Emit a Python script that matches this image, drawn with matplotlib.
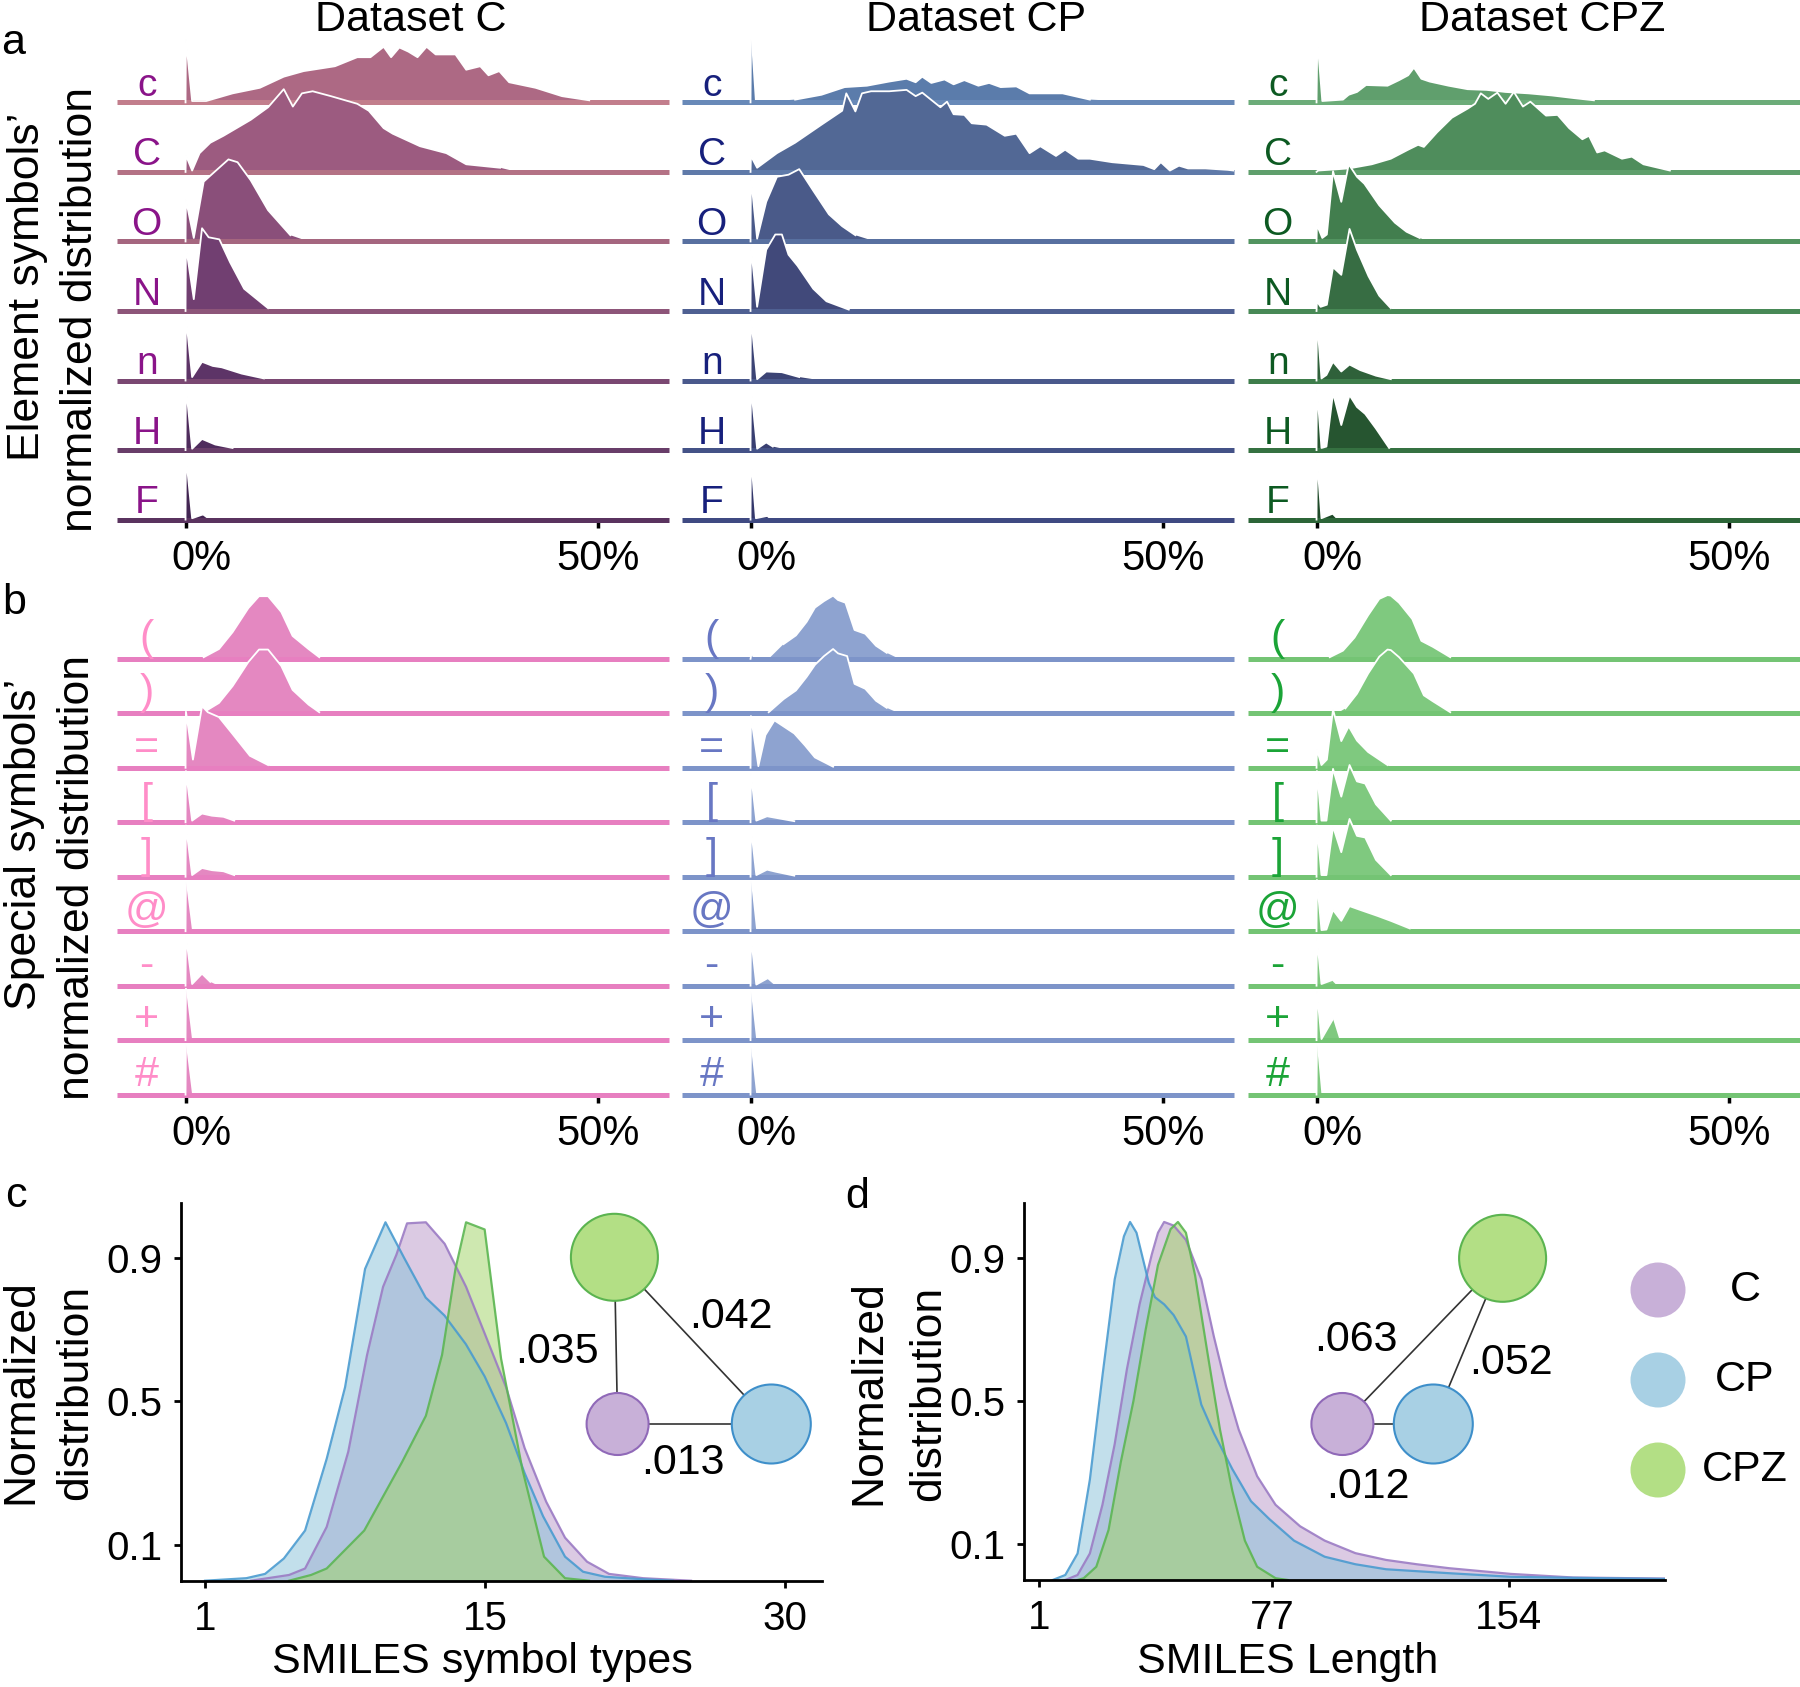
import matplotlib
matplotlib.use('Agg')
import matplotlib.pyplot as plt
import numpy as np
from matplotlib.patches import Circle
from matplotlib.transforms import ScaledTranslation

plt.rcParams['font.family'] = ['Liberation Sans', 'DejaVu Sans']

W, H = 1800, 1687

# ---------------- data ----------------
datasets = ['C', 'CP', 'CPZ']
elem_symbols = ['c', 'C', 'O', 'N', 'n', 'H', 'F']
spec_symbols = ['(', ')', '=', '[', ']', '@', '-', '+', '#']

# ridges: (percent, height in row units)
elem_C = [
    [(0, 0), (0.05, .91), (0.8, .02), (2.5, .02), (5.7, .13), (9, .21), (11.9, .37), (14.3, .45), (18.1, .52),
     (20.8, .65), (22.4, .65), (24, .8), (24.9, .65), (25.9, .79), (27, .73), (28.1, .65), (29.2, .8), (30.3, .69),
     (32.7, .69), (34, .47), (35.7, .52), (36.7, .39), (38, .45), (39.2, .29), (42.4, .21), (45.6, .09), (48.9, .03), (50.5, 0)],
    [(0, 0), (0.05, .24), (0.8, .02), (1.7, .27), (3, .42), (4.6, .52), (7.9, .75), (10, .93), (11.9, 1.19), (13, .94),
     (14.1, 1.13), (15.4, 1.16), (17.6, 1.09), (20.8, .98), (22.2, .88), (24, .63), (25.1, .55), (28.4, .37), (31.6, .27),
     (34, .11), (38.1, .06), (40.2, 0)],
    [(0, 0), (0.05, .6), (1, .05), (2.2, .86), (3.6, 1.01), (5.2, 1.18), (6.3, 1.14), (7.9, .88), (10, .45), (12.7, .09), (14.9, 0)],
    [(0, 0), (0.05, .93), (1, .17), (2, 1.19), (2.8, 1.06), (4.1, 1.03), (5.4, .7), (7.1, .32), (10, .04), (10.5, 0)],
    [(0, 0), (0.05, .92), (0.8, .05), (2, .27), (3.3, .21), (4.4, .19), (6.8, .1), (9.5, .03), (10, 0)],
    [(0, 0), (0.05, .92), (0.8, .02), (2, .16), (3.6, .08), (5.7, .03), (6.2, 0)],
    [(0, 0), (0.05, .92), (0.8, .02), (2, .07), (2.8, 0)],
]
elem_CP = [
    [(0, 0), (0.05, .91), (0.55, 0), (5.4, .04), (8.6, .11), (11.4, .22), (14.1, .24), (16.8, .30), (18.9, .34), (20, .29),
     (20.8, .37), (21.9, .28), (23.5, .33), (24.6, .26), (25.9, .32), (27.6, .24), (28.9, .28), (30.3, .22), (32.2, .23),
     (33.8, .13), (35.7, .13), (37.8, .13), (41.1, .04), (46.5, .01), (48, 0)],
    [(0, 0), (0.05, .23), (0.8, .06), (3.2, .27), (5.4, .42), (8.6, .68), (11.1, .88), (11.6, 1.13), (12.7, .87), (13.5, 1.13),
     (14.6, 1.16), (16.8, 1.16), (18.9, 1.18), (20, 1.09), (20.8, 1.14), (23, .93), (23.8, 1.01), (24.6, .83), (25.9, .82),
     (26.8, .70), (28.6, .68), (30.8, .52), (32.2, .55), (33.8, .27), (35.1, .37), (37, .23), (38.1, .32), (39.7, .19),
     (41.1, .19), (43.8, .14), (47.6, .10), (48.9, .04), (49.7, .14), (50.8, .02), (51.9, .09), (53, .05), (55.1, .05),
     (57.8, .03), (58.5, .02)],
    [(0, 0), (0.05, .93), (0.8, .04), (1.9, .57), (3.2, .93), (4.6, .96), (5.9, 1.04), (7.6, .73), (9.5, .39), (11.1, .22), (12.7, .09), (15.1, 0)],
    [(0, 0), (0.05, .93), (0.8, .06), (1.9, .88), (3, 1.1), (3.8, 1.1), (4.6, .81), (5.7, .65), (7.6, .32), (9.2, .14), (11.9, .02), (12.5, 0)],
    [(0, 0), (0.05, .92), (0.8, .02), (1.9, .13), (3.8, .12), (5.9, .05), (8.1, .01), (8.5, 0)],
    [(0, 0), (0.05, .92), (0.8, .02), (1.9, .11), (2.7, .05), (4.3, .01), (4.6, 0)],
    [(0, 0), (0.05, .92), (0.65, .02), (1.9, .05), (2.4, 0)],
]
elem_CPZ = [
    [(0, 0), (0.1, .91), (0.7, .02), (3.2, .04), (3.9, .11), (4.9, .15), (6, .25), (8.6, .24), (10, .32), (11.1, .39), (11.8, .5),
     (12.7, .34), (13.7, .30), (16, .24), (18.3, .19), (20.6, .18), (22.9, .15), (25.7, .13), (28.5, .1), (31.3, .06), (33.6, .03), (35, 0)],
    [(0, 0), (0.2, .02), (3.9, .05), (6.7, .11), (9, .19), (11.1, .32), (12.3, .39), (13, .36), (14.6, .57), (16.4, .78), (18.3, .91),
     (19.2, .98), (19.9, 1.13), (20.8, 1.05), (21.9, 1.14), (22.9, .98), (23.9, 1.15), (25, .94), (25.9, 1.01), (27.8, .81),
     (29.2, .82), (30.6, .63), (32.2, .47), (33, .52), (34, .28), (34.9, .31), (37, .19), (38.2, .22), (39.6, .11), (42.8, .02), (43.5, 0)],
    [(0, 0), (0.05, .24), (0.7, .05), (1.25, .1), (2, 1.01), (3, .57), (3.9, 1.11), (4.9, .93), (5.8, .83), (7.6, .52), (9.5, .27),
     (10.9, .14), (12.5, .05), (13.5, 0)],
    [(0, 0), (0.05, .14), (0.5, .06), (1.25, .09), (2, .63), (3, .52), (4, 1.18), (4.9, .88), (6.3, .5), (7.6, .22), (9, .04), (9.5, 0)],
    [(0, 0), (0.05, .9), (0.6, .03), (1.2, .08), (2, .27), (3, .13), (4, .23), (5.3, .15), (7.2, .07), (9, .02), (9.5, 0)],
    [(0, 0), (0.05, .9), (0.6, .03), (1.2, .05), (2, .82), (3, .36), (4, .79), (4.9, .62), (5.9, .52), (7.2, .31), (8.8, .03), (9.2, 0)],
    [(0, 0), (0.05, .9), (0.6, .02), (1.85, .08), (2.5, 0)],
]

spec_C = [
    [(2.2, 0), (2.2, .03), (4.05, .18), (5.7, .49), (7.6, .93), (8.9, 1.15), (10, 1.15), (11.6, .86), (12.97, .42), (14.9, .18), (16.2, .03), (16.5, 0)],
    [(2.2, 0), (2.2, .02), (4.05, .19), (5.7, .5), (7.6, .94), (8.9, 1.17), (10, 1.17), (11.6, .87), (12.97, .43), (14.9, .16), (16.2, .02), (16.5, 0)],
    [(0, 0), (0.05, 1.03), (0.9, .15), (2, 1.13), (2.7, 1.02), (4.05, .93), (5.7, .62), (7.8, .22), (10, .05), (10.5, 0)],
    [(0, 0), (0.05, .94), (0.8, .03), (2, .16), (3.2, .12), (4.6, .1), (5.9, .03), (6.3, 0)],
    [(0, 0), (0.05, .94), (0.8, .03), (2, .16), (3.2, .12), (4.6, .1), (5.9, .03), (6.3, 0)],
    [(0, 0), (0.05, .9), (0.8, 0)],
    [(0, 0), (0.05, .92), (0.8, .03), (2, .22), (3, .07), (4, 0)],
    [(0, 0), (0.05, .94), (0.8, 0)],
    [(0, 0), (0.05, .92), (0.8, 0)],
]
spec_CP = [
    [(0, 0), (0.1, .08), (0.4, 0), (2.2, 0), (4, .27), (5.5, .43), (6.8, .68), (7.8, .94), (8.9, 1.06), (10, 1.16), (10.6, 1.08),
     (11.5, 1.03), (12.6, .53), (13.9, .46), (15.2, .24), (16.5, .11), (18, 0)],
    [(2.2, 0), (2.2, .02), (4, .26), (5.5, .42), (6.8, .67), (7.8, .89), (8.9, 1.05), (10, 1.18), (10.6, 1.1), (11.7, 1.05),
     (12.6, .54), (13.9, .45), (15.2, .23), (16.5, .1), (18, 0)],
    [(0, 0), (0.05, .95), (0.95, .03), (1.8, .6), (2.9, .87), (4, .76), (5.3, .63), (6.6, .41), (7.8, .19), (10, .02), (10.5, 0)],
    [(0, 0), (0.05, .9), (0.7, .03), (2, .11), (3.1, .08), (5.3, .02), (5.6, 0)],
    [(0, 0), (0.05, .91), (0.7, .03), (2, .13), (3.1, .09), (5.3, .02), (5.6, 0)],
    [(0, 0), (0.05, .92), (0.7, 0)],
    [(0, 0), (0.05, .9), (0.7, .02), (2, .13), (3, 0)],
    [(0, 0), (0.05, .89), (0.7, 0)],
    [(0, 0), (0.05, .88), (0.7, 0)],
]
spec_CPZ = [
    [(1.6, 0), (1.6, .03), (3.2, .15), (4.6, .39), (6.25, .8), (7.6, 1.1), (8.6, 1.17), (9, 1.16), (10, 1.03), (11.6, .73),
     (12.7, .33), (14.1, .22), (16.2, .03), (16.5, 0)],
    [(2.5, 0), (3.5, .09), (4.9, .36), (6.25, .73), (7.6, 1.04), (8.6, 1.17), (9, 1.16), (10, 1.03), (11.8, .73), (13, .33),
     (14.1, .22), (16.2, .02), (16.5, 0)],
    [(0, 0), (0.05, .34), (0.6, .05), (1.25, .15), (2, 1.07), (3, .49), (3.9, .76), (4.9, .5), (6.25, .29), (8.6, .05), (9, 0)],
    [(0, 0), (0.05, .94), (0.6, .03), (1.2, .03), (2, .98), (3, .47), (4, 1.05), (4.9, .75), (5.9, .71), (7.2, .33), (9, .03), (9.4, 0)],
    [(0, 0), (0.05, .94), (0.6, .03), (1.2, .03), (2, .92), (3, .45), (4, 1.06), (4.9, .75), (5.9, .72), (7.2, .31), (9, .03), (9.4, 0)],
    [(0, 0), (0.05, .94), (0.6, .02), (1.2, .03), (2, .39), (3, .19), (4, .46), (5.3, .39), (7.4, .28), (9, .19), (11.3, .05), (12.2, 0)],
    [(0, 0), (0.05, .88), (0.6, .03), (1.85, .1), (2.5, 0)],
    [(0, 0), (0.05, .9), (0.6, .02), (2, .39), (2.8, 0)],
    [(0, 0), (0.05, .92), (0.6, 0)],
]

# panel c: SMILES symbol types
types_C = [(3.3, 0), (5.2, .016), (6, .034), (7.08, .15), (8.16, .36), (9.1, .63), (9.9, .82), (10.57, .91), (11.1, .997),
           (12.04, 1.0), (12.98, .94), (14.05, .82), (14.98, .69), (16.05, .54), (16.98, .37), (18.06, .22), (19, .12),
           (20.1, .053), (21.2, .019), (22.9, .007), (25.3, 0)]
types_CP = [(1, 0), (3.06, .007), (4, .019), (4.94, .062), (6, .14), (7.08, .34), (8, .54), (9, .87), (10.02, 1.0), (10.96, .9),
            (12.03, .79), (12.97, .74), (14.04, .66), (14.98, .57), (16.05, .44), (16.98, .3), (17.9, .18), (19, .067),
            (19.9, .025), (21, .011), (22.9, .004), (24.4, 0)]
types_CPZ = [(5.2, 0), (6.3, .016), (7.08, .034), (8.96, .14), (10.84, .33), (12.04, .46), (12.85, .63), (13.52, .87),
             (14.05, 1.0), (14.98, .98), (15.8, .62), (16.87, .31), (17.95, .067), (19, .007), (20.2, 0)]

# panel d: SMILES length
length_C = [(9.5, 0), (13.5, .014), (17.5, .074), (21.6, .21), (25.6, .38), (29.6, .59), (33.7, .77), (37.7, .91), (39.7, .97),
            (41.7, 1.0), (44.8, .99), (48.8, .95), (53.8, .84), (57.9, .68), (61.9, .54), (66, .42), (72, .29), (78, .21),
            (86, .15), (94, .11), (104, .075), (114, .056), (124, .044), (134.5, .033), (154.7, .017), (175, .007), (205, .004)]
length_CP = [(5.4, 0), (9.5, .014), (13.5, .074), (17.5, .28), (21.6, .57), (25.6, .84), (28.6, .96), (30.6, 1.0), (32.7, .97),
             (34.7, .9), (36.7, .83), (38.7, .79), (41.7, .77), (44.8, .74), (48.8, .68), (53.8, .49), (57.9, .41), (63.9, .31),
             (70, .22), (76, .17), (84, .11), (94, .065), (104, .044), (114, .03), (134.5, .019), (154.7, .009), (175, .006), (205, .003)]
length_CPZ = [(13.5, 0), (15.5, .005), (19.6, .037), (23.6, .14), (27.6, .33), (31.7, .5), (35.7, .7), (39.7, .88), (43.8, .98),
              (46.2, 1.0), (48.8, .97), (51.8, .85), (55.9, .63), (59.9, .42), (63.9, .25), (68, .11), (72, .037), (78, .005), (82, 0)]

# pairwise distances shown in the small networks
dist_c = {('C', 'CPZ'): '.035', ('CPZ', 'CP'): '.042', ('C', 'CP'): '.013'}
dist_d = {('C', 'CPZ'): '.063', ('CPZ', 'CP'): '.052', ('C', 'CP'): '.012'}

# ---------------- styles ----------------
a_fill = {'C': ['#ad6984', '#9c5b80', '#8a4f7a', '#713f71', '#5d3467', '#4f2c5d', '#432653'],
          'CP': ['#5b7cab', '#526895', '#4a5a89', '#41497a', '#3c4475', '#393f71', '#34386b'],
          'CPZ': ['#609f6d', '#4f8d5c', '#427e4e', '#376d43', '#2f613a', '#265530', '#1f4a29']}
a_line = {'C': ['#c27e8c', '#b47285', '#a5667f', '#8d5579', '#7a4872', '#683d69', '#5a335f'],
          'CP': ['#6889b8', '#5f7aa9', '#5870a0', '#4f6092', '#4a598c', '#445287', '#3f4a82'],
          'CPZ': ['#6cac79', '#5f9f6c', '#529460', '#488956', '#3e7d4b', '#357141', '#2c6538']}
a_label = {'C': '#8a1489', 'CP': '#17207c', 'CPZ': '#0d5a22'}
b_fill = {'C': '#e488c1', 'CP': '#8ea3d0', 'CPZ': '#7fc97f'}
b_line = {'C': '#e77fc0', 'CP': '#7d94c9', 'CPZ': '#74c474'}
b_label = {'C': '#ff8dc8', 'CP': '#6877c3', 'CPZ': '#1ba437'}
dist_fill = {'C': '#b997c9', 'CP': '#87c1d9', 'CPZ': '#9fd363'}
dist_edge = {'C': '#9b7bc4', 'CP': '#4a9bd0', 'CPZ': '#5cb652'}
node_fill = {'C': '#c8b0d8', 'CP': '#a8d0e4', 'CPZ': '#b3df85'}
node_edge = {'C': '#9069b8', 'CP': '#3e8fca', 'CPZ': '#5bb450'}

XMIN, XMAX = -8.3, 58.5


def rect(l, t, r, b):
    return [l / W, 1 - b / H, (r - l) / W, (b - t) / H]


def ridges(ax, rows, labels, fills, lines, lab_color, lab_size, lab_off):
    n = len(rows)
    for i, pts in enumerate(rows):
        base = n - 1 - i
        xs = np.array([p[0] for p in pts], float)
        hs = np.array([p[1] for p in pts], float)
        z = 2 + i
        ax.fill(xs, base + hs, color=fills[i], lw=0, zorder=z)
        ax.plot([XMIN, XMAX], [base, base], color=lines[i], lw=3.6,
                solid_capstyle='butt', zorder=z + 0.1, clip_on=False)
        mask = hs > 0.01
        mask[0] = xs[0] == 0
        ax.plot(xs, np.where(mask, base + hs, np.nan), color='white', lw=1.3, zorder=z + 0.2)
        ax.text(-4.7, base + lab_off, labels[i], color=lab_color, fontsize=lab_size,
                ha='center', va='baseline', zorder=z + 0.3)
    ax.set_xlim(XMIN, XMAX)
    for s in ax.spines.values():
        s.set_visible(False)
    ax.set_yticks([])
    ax.set_xticks([0, 50], ['0%', '50%'])
    ax.tick_params(axis='x', length=4.5, width=2.5, pad=8, labelsize=30)
    # the "0%" label sits a little to the right of its tick
    lab0 = ax.get_xticklabels()[0]
    lab0.set_transform(lab0.get_transform() + ScaledTranslation(0.16, 0, fig.dpi_scale_trans))


fig = plt.figure(figsize=(W / 100, H / 100), dpi=100)

lefts = [117, 682, 1248]
a_rows = {'C': elem_C, 'CP': elem_CP, 'CPZ': elem_CPZ}
b_rows = {'C': spec_C, 'CP': spec_CP, 'CPZ': spec_CPZ}
for k, ds in enumerate(datasets):
    l = lefts[k]
    axa = fig.add_axes(rect(l, 25, l + 551.5, 522))
    ridges(axa, a_rows[ds], elem_symbols, a_fill[ds], a_line[ds], a_label[ds], 28, 0.093)
    axa.set_ylim(-0.0345, 7.113)
    axa.text(27.3, 6 + (102.5 - 31) / 69.6, 'Dataset ' + ds, fontsize=31, ha='center', va='baseline')

    axb = fig.add_axes(rect(l, 580, l + 551.5, 1097))
    ridges(axb, b_rows[ds], spec_symbols, [b_fill[ds]] * 9, [b_line[ds]] * 9, b_label[ds], 31, 0.165)
    axb.set_ylim(-0.044, 9.447)


def dist_panel(ax, curves, xlim, xticks):
    for ds, pts in zip(datasets, curves):
        x = [p[0] for p in pts]
        y = [p[1] for p in pts]
        ax.fill_between(x, y, color=dist_fill[ds], alpha=0.5, lw=0)
        ax.plot(x, y, color=dist_edge[ds], lw=1.6, alpha=0.9)
    ax.set_xlim(*xlim)
    ax.set_ylim(0, 1.053)
    ax.spines['top'].set_visible(False)
    ax.spines['right'].set_visible(False)
    ax.spines['left'].set_linewidth(2)
    ax.spines['bottom'].set_linewidth(2)
    ax.set_xticks(xticks, [str(t) for t in xticks])
    ax.set_yticks([0.1, 0.5, 0.9], ['0.1', '0.5', '0.9'])
    ax.tick_params(axis='both', length=5, width=2, labelsize=29)
    ax.tick_params(axis='x', pad=9)
    ax.tick_params(axis='y', pad=8)


axc = fig.add_axes(rect(180.5, 1203.3, 822, 1580.7))
dist_panel(axc, [types_C, types_CP, types_CPZ], (-0.23, 31.85), [1, 15, 30])
axd = fig.add_axes(rect(1023.7, 1203, 1665.4, 1580))
dist_panel(axd, [length_C, length_CP, length_CPZ], (-4.05, 205), [1, 77, 154])

# ---------------- text ----------------
def ftext(x, y, s, **kw):
    fig.text(x / W, 1 - y / H, s, **kw)


ftext(1, 53.6, 'a', fontsize=31, ha='left', va='baseline')
ftext(2, 613.6, 'b', fontsize=31, ha='left', va='baseline')
ftext(5, 1206.7, 'c', fontsize=31, ha='left', va='baseline')
ftext(845.5, 1208, 'd', fontsize=31, ha='left', va='baseline')

ylab = dict(fontsize=32, rotation=90, ha='center', va='center')
ftext(28, 287, 'Element symbols\u2019', **ylab)
ftext(80.5, 310, 'normalized distribution', **ylab)
ftext(25, 844, 'Special symbols\u2019', **ylab)
ftext(78, 878, 'normalized distribution', **ylab)
ftext(21, 1392, 'Normalized', **ylab)
ftext(76, 1392, 'distribution', **ylab)
ftext(868.7, 1393, 'Normalized', **ylab)
ftext(929, 1393, 'distribution', **ylab)
ftext(482, 1662, 'SMILES symbol types', fontsize=31, ha='center', va='center')
ftext(1288, 1662, 'SMILES Length', fontsize=31, ha='center', va='center')

# ---------------- networks and legend (pixel overlay) ----------------
ov = fig.add_axes([0, 0, 1, 1])
ov.set_xlim(0, W)
ov.set_ylim(H, 0)
ov.axis('off')

node_size = {'C': 62, 'CP': 79, 'CPZ': 87}
net_pos_c = {'C': (617.6, 1424), 'CP': (771.3, 1424), 'CPZ': (614.4, 1257.3)}
net_pos_d = {'C': (1342.4, 1424), 'CP': (1433.3, 1424), 'CPZ': (1502.6, 1258.3)}
lab_pos_c = {('C', 'CPZ'): (557, 1352), ('CPZ', 'CP'): (731, 1317), ('C', 'CP'): (683, 1463)}
lab_pos_d = {('C', 'CPZ'): (1356, 1340), ('CPZ', 'CP'): (1511, 1363), ('C', 'CP'): (1368, 1487)}

for pos, dist, lpos in [(net_pos_c, dist_c, lab_pos_c), (net_pos_d, dist_d, lab_pos_d)]:
    for (a, b), val in dist.items():
        ov.plot([pos[a][0], pos[b][0]], [pos[a][1], pos[b][1]], color='#333333', lw=1.2, zorder=1)
        ov.text(*lpos[(a, b)], val, fontsize=31, ha='center', va='center')
    for ds in datasets:
        ov.add_patch(Circle(pos[ds], node_size[ds] / 2, fc=node_fill[ds], ec=node_edge[ds], lw=1.5, zorder=2))

leg_y = [1290, 1380, 1470]
for ds, y in zip(datasets, leg_y):
    ov.add_patch(Circle((1658, y), 27.5, fc=node_fill[ds], ec='none', zorder=2))
    ov.text(1745, y, ds, fontsize=31, ha='center', va='center')

fig.savefig('out.png', dpi=100)
